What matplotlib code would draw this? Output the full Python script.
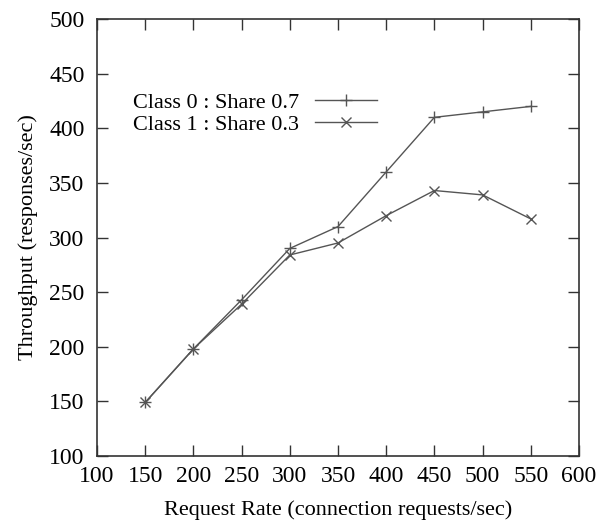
import matplotlib
matplotlib.use("Agg")
import matplotlib.pyplot as plt

# Data
request_rate = [150, 200, 250, 300, 350, 400, 450, 500, 550]
class0_tput = [149, 198, 243, 290, 310, 360, 410, 415, 420]
class1_tput = [149, 198, 239, 284, 295, 320, 343, 339, 317]

labels = ["Class 0 : Share 0.7", "Class 1 : Share 0.3"]
x_ticks = list(range(100, 601, 50))
y_ticks = list(range(100, 501, 50))

plt.rcParams['font.family'] = ['Liberation Serif', 'DejaVu Serif']

fig = plt.figure(figsize=(5.98, 5.22), dpi=100)
ax = fig.add_axes([97 / 598, 1 - 456 / 522, 482 / 598, 437 / 522])

line_col = '#555555'
ax.plot(request_rate, class0_tput, color=line_col, lw=1.0, marker='+',
        markersize=8, markeredgewidth=1.0, label=labels[0])
ax.plot(request_rate, class1_tput, color=line_col, lw=1.0, marker='x',
        markersize=7, markeredgewidth=1.0, label=labels[1])

ax.set_xlim(100, 600)
ax.set_ylim(100, 500)
ax.set_xticks(x_ticks)
ax.set_yticks(y_ticks)
ax.tick_params(direction='in', length=8, width=1, top=True, right=True,
               labelsize=17, color='#333333')
ax.tick_params(axis='x', pad=7)
ax.tick_params(axis='y', pad=9)
for s in ax.spines.values():
    s.set_linewidth(1.2)
    s.set_color('#333333')

ax.set_xlabel('Request Rate (connection requests/sec)', fontsize=16, labelpad=10)
ax.set_ylabel('Throughput (responses/sec)', fontsize=16, labelpad=8)

ax.legend(loc='upper left', bbox_to_anchor=(0.075, 0.832), frameon=False,
          markerfirst=False, handlelength=2.8, handletextpad=0.7,
          fontsize=16, borderpad=0, borderaxespad=0, labelspacing=0.05)

fig.savefig('out.png', dpi=100)
